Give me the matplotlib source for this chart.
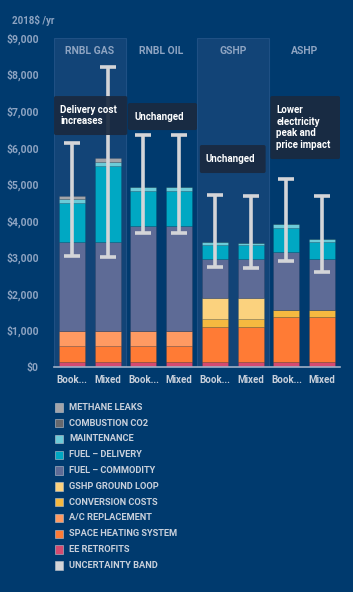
import matplotlib.pyplot as plt
import numpy as np
from matplotlib.patches import Rectangle, FancyBboxPatch

plt.rcParams['font.family'] = ['Roboto', 'DejaVu Sans']
plt.rcParams['font.weight'] = 'bold'

# data (2018$ per year)
bar_labels = ['Book...', 'Mixed', 'Book...', 'Mixed', 'Book...', 'Mixed', 'Book...', 'Mixed']
groups = ['RNBL GAS', 'RNBL OIL', 'GSHP', 'ASHP']

ee_retrofits = [130, 130, 130, 130, 140, 140, 140, 140]
space_heating = [445, 445, 445, 445, 955, 955, 1230, 1230]
ac_replacement = [410, 410, 410, 410, 0, 0, 0, 0]
conversion = [0, 0, 0, 0, 210, 210, 190, 190]
ground_loop = [0, 0, 0, 0, 575, 575, 0, 0]
commodity = [2440, 2440, 2880, 2880, 1065, 1065, 1580, 1390]
delivery = [1060, 2080, 950, 950, 390, 380, 665, 475]
maintenance = [110, 110, 120, 120, 80, 75, 110, 90]
combustion_co2 = [0, 0, 0, 0, 0, 0, 0, 0]
methane_leaks = [80, 90, 0, 0, 0, 0, 0, 0]

band_low = [3035, 3010, 3665, 3665, 2745, 2720, 2900, 2590]
band_high = [6130, 8200, 6345, 6345, 4710, 4690, 5140, 4670]

notes = ['Delivery cost\nincreases', 'Unchanged', 'Unchanged', 'Lower\nelectricity\npeak and\nprice impact']

legend_names = ['METHANE LEAKS', 'COMBUSTION CO2', 'MAINTENANCE', 'FUEL \u2013 DELIVERY',
                'FUEL \u2013 COMMODITY', 'GSHP GROUND LOOP', 'CONVERSION COSTS',
                'A/C REPLACEMENT', 'SPACE HEATING SYSTEM', 'EE RETROFITS', 'UNCERTAINTY BAND']
legend_colors = ['#a3a4a9', '#66686d', '#6ccbd8', '#00a8c3', '#5e6b96', '#fbd27e',
                 '#f5b940', '#ff9a62', '#ff7b35', '#d54a70', '#d4d5d8']

bg = '#003a6e'
tick_col = '#8ea4c2'

fig = plt.figure(figsize=(3.53, 5.92), dpi=100, facecolor=bg)
ax = fig.add_axes([54 / 353, 1 - 367 / 592, 286 / 353, 329 / 592])
ax.set_facecolor(bg)

x = np.arange(len(bar_labels))
width = 0.73

# shaded panels for 1st and 3rd group
for x0 in [-0.5, 3.5]:
    ax.add_patch(Rectangle((x0, 0), 2, 9000, fc='#124477', ec='#1f5084', lw=0.8, zorder=0))

# stacked bars, bottom to top
stack = [ee_retrofits, space_heating, ac_replacement, conversion, ground_loop,
         commodity, delivery, maintenance, combustion_co2, methane_leaks]
stack_colors = ['#d54a70', '#ff7b35', '#ff9a62', '#f5b940', '#fbd27e',
                '#5e6b96', '#00a8c3', '#6ccbd8', '#66686d', '#a3a4a9']
bottom = np.zeros(len(x))
for vals, col in zip(stack, stack_colors):
    vals = np.array(vals)
    ax.bar(x, vals, width, bottom=bottom, color=col, edgecolor=(0, 0, 0, 0.12), lw=0.5, zorder=2)
    bottom += vals

# uncertainty band
low = np.array(band_low)
high = np.array(band_high)
mid = (low + high) / 2
ax.errorbar(x, mid, yerr=[mid - low, high - mid], fmt='none', ecolor='#d4d5d8',
            elinewidth=2.6, capsize=6, capthick=2.6, zorder=3)

# group titles
for i, g in enumerate(groups):
    ax.text(2 * i + 0.5, 8650, g, ha='center', va='center', color=tick_col, fontsize=7.5)

# annotation boxes
boxes = [(-0.5, 1.55, 6346, 7412), (1.57, 3.5, 6482, 7221), (3.58, 5.42, 5306, 6072), (5.55, 7.5, 5689, 7412)]
for (x0, x1, y0, y1), txt in zip(boxes, notes):
    ax.add_patch(FancyBboxPatch((x0, y0), x1 - x0, y1 - y0, boxstyle='round,pad=0,rounding_size=0.05',
                                mutation_aspect=1000, fc='#1a2a40', ec='none', alpha=0.93, zorder=4))
    ax.text(x0 + 0.17, (y0 + y1) / 2, txt, ha='left', va='center', color='white',
            fontsize=7, linespacing=1.2, zorder=5)

ax.set_xlim(-0.5, 7.5)
ax.set_ylim(0, 9000)
ax.set_yticks(range(0, 9001, 1000))
ax.set_yticklabels(['$0'] + ['${:,}'.format(v) for v in range(1000, 9001, 1000)])
ax.set_xticks(x)
ax.set_xticklabels(bar_labels)
ax.tick_params(axis='y', length=0, colors=tick_col, labelsize=7.5, pad=11)
ax.tick_params(axis='x', length=0, colors='#c9d0db', labelsize=7, pad=6)
for s in ['top', 'right', 'left']:
    ax.spines[s].set_visible(False)
ax.spines['bottom'].set_color('#9fb0c8')
ax.spines['bottom'].set_linewidth(1.2)
ax.spines['bottom'].set_zorder(6)

fig.text(12 / 353, 1 - 20 / 592, '2018$ /yr', color=tick_col, fontsize=7, va='center')

# legend
for i, (name, col) in enumerate(zip(legend_names, legend_colors)):
    yc = 407.3 + i * 15.8
    fig.patches.append(Rectangle((54.5 / 353, 1 - (yc + 4.2) / 592), 8.4 / 353, 8.4 / 592,
                                 transform=fig.transFigure, fc=col, ec='#c0c4cc', lw=0.4))
    fig.text(69 / 353, 1 - yc / 592, name, color='#c9d0db', fontsize=6.7, va='center')

fig.savefig('out.png', dpi=100, facecolor=bg)
